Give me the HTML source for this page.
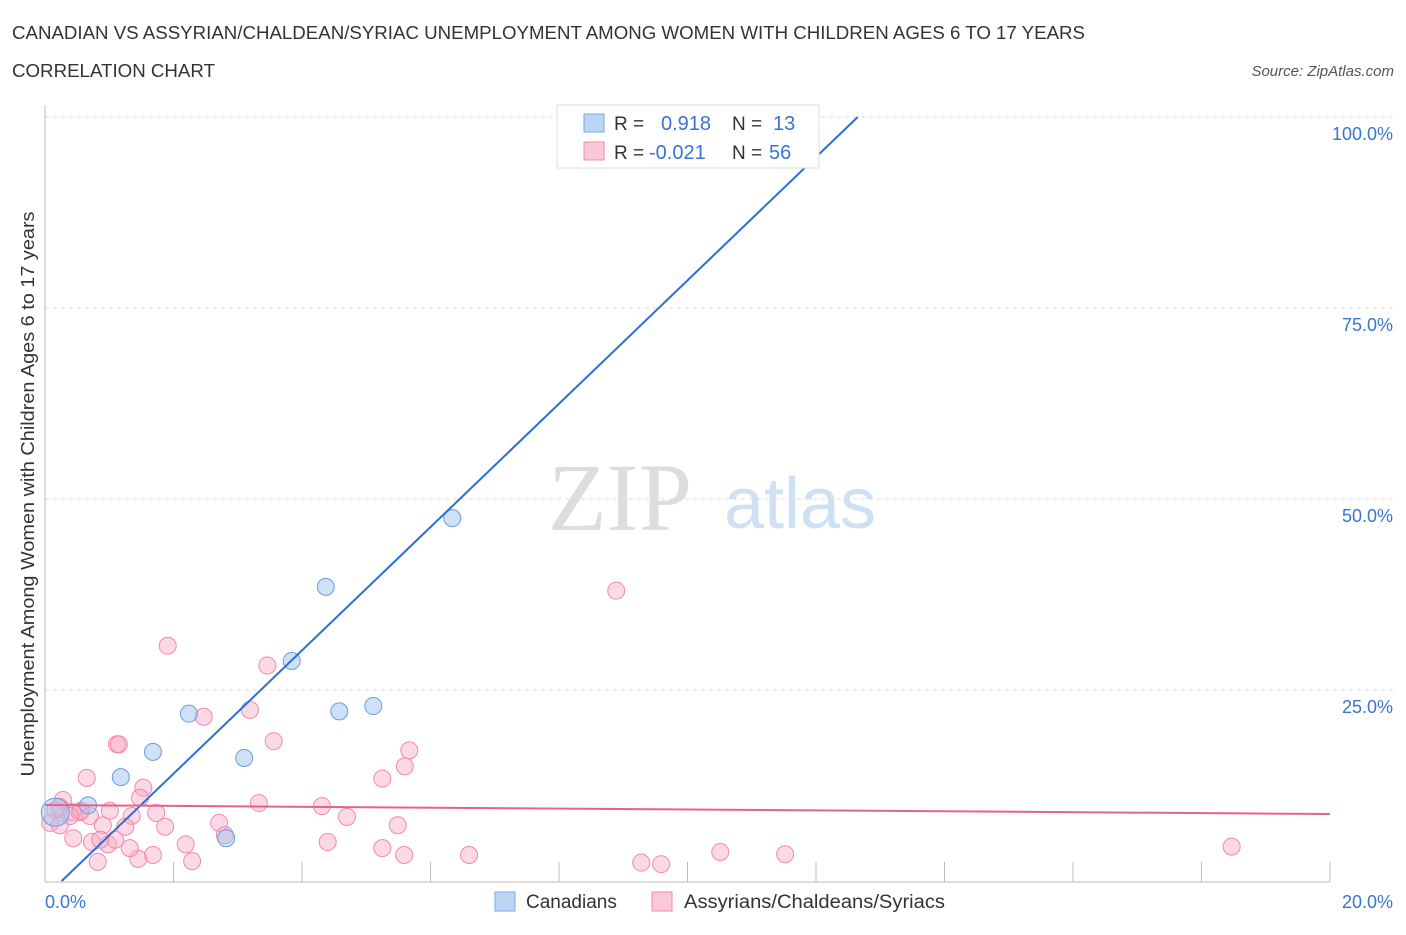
<!DOCTYPE html>
<html><head><meta charset="utf-8"><style>
body{margin:0;background:#fff;font-family:"Liberation Sans",sans-serif;}
</style></head><body>
<svg width="1406" height="930" xmlns="http://www.w3.org/2000/svg">
<text x="12" y="39" font-size="18" fill="#333" textLength="1073" lengthAdjust="spacingAndGlyphs">CANADIAN VS ASSYRIAN/CHALDEAN/SYRIAC UNEMPLOYMENT AMONG WOMEN WITH CHILDREN AGES 6 TO 17 YEARS</text>
<text x="12" y="77" font-size="18" fill="#333" textLength="203" lengthAdjust="spacingAndGlyphs">CORRELATION CHART</text>
<text x="1394" y="76" font-size="15" fill="#555" font-style="italic" text-anchor="end">Source: ZipAtlas.com</text>
<text x="620" y="530" font-size="96" fill="#ddd" font-family="Liberation Serif,serif" text-anchor="middle">ZIP</text>
<text x="800" y="528" font-size="72" fill="#cfe0f3" text-anchor="middle">atlas</text>
<g id="grid"></g>
<g id="axes"></g>
<g id="marks"></g>
<text transform="translate(34,494) rotate(-90)" font-size="18" fill="#333" text-anchor="middle" textLength="565" lengthAdjust="spacingAndGlyphs">Unemployment Among Women with Children Ages 6 to 17 years</text>
<g>
<rect x="557" y="105" width="262" height="63" fill="#fff" stroke="#ddd"/>
<rect x="584" y="114" width="20" height="18" fill="#bcd5f5" stroke="#7aa8e6"/>
<rect x="584" y="142" width="20" height="18" fill="#fbc8d8" stroke="#f08aac"/>
<text x="614" y="130" font-size="19" fill="#333">R =</text><text x="661" y="130" font-size="20" fill="#3a74d0">0.918</text>
<text x="732" y="130" font-size="19" fill="#333">N =</text><text x="773" y="130" font-size="20" fill="#3a74d0">13</text>
<text x="614" y="159" font-size="19" fill="#333">R =</text><text x="649" y="159" font-size="20" fill="#3a74d0">-0.021</text>
<text x="732" y="159" font-size="19" fill="#333">N =</text><text x="769" y="159" font-size="20" fill="#3a74d0">56</text>
</g>
<g>
<rect x="495" y="892" width="20" height="19" fill="#bcd5f5" stroke="#7aa8e6"/>
<text x="526" y="908" font-size="19" fill="#333">Canadians</text>
<rect x="652" y="892" width="20" height="19" fill="#fbc8d8" stroke="#f08aac"/>
<text x="684" y="908" font-size="19" fill="#333" textLength="261" lengthAdjust="spacingAndGlyphs">Assyrians/Chaldeans/Syriacs</text>
</g>
</svg>
<script>
const yTicks=[25,50,75,100];
const yTickLabels=["25.0%","50.0%","75.0%","100.0%"];
const xTicks=[0,2,4,6,8,10,12,14,16,18,20];
const blueX=[10.85,6.34,4.37,3.84,4.58,5.11,2.24,1.68,3.10,1.18,0.67,0.16,2.82];
const blueY=[100,47.5,38.5,28.8,22.2,22.9,21.9,16.9,16.1,13.6,9.9,9.0,5.6];
const pinkX=[1.91,8.89,3.46,2.47,3.19,1.12,1.15,3.56,5.67,5.60,5.25,0.65,1.53,1.48,3.33,4.31,0.28,0.16,0.42,0.54,0.08,0.23,0.70,1.01,1.35,1.73,1.87,0.90,1.25,0.44,0.73,0.98,1.09,2.71,2.80,4.70,5.49,2.19,1.68,1.45,0.82,2.29,5.25,4.40,5.59,6.60,9.28,9.59,10.51,11.52,18.47,0.56,0.39,0.86,1.32,0.23];
const pinkY=[30.8,38.0,28.2,21.5,22.4,17.9,17.9,18.3,17.1,15.0,13.4,13.5,12.2,10.9,10.2,9.8,10.6,9.3,9.0,9.0,7.6,7.3,8.5,9.2,8.5,8.9,7.1,7.3,7.1,5.6,5.1,4.8,5.4,7.6,6.0,8.4,7.3,4.8,3.4,2.9,2.5,2.6,4.3,5.1,3.4,3.4,2.4,2.2,3.8,3.5,4.5,9.2,8.5,5.4,4.3,9.7];
const blueLine=[[0.26,0],[12.65,100]];
const pinkLine=[[0,9.95],[20,8.77]];
const X0=45,X1=1330,Y0=881,Y100=117;
const sx=v=>X0+(X1-X0)*v/20, sy=v=>Y0-(Y0-Y100)*v/100;
const NS="http://www.w3.org/2000/svg";
function mk(t,a,p){const e=document.createElementNS(NS,t);for(const k in a)e.setAttribute(k,a[k]);p.appendChild(e);return e;}
const grid=document.getElementById('grid'),axes=document.getElementById('axes'),marks=document.getElementById('marks');
yTicks.forEach((v,i)=>{
 const l=mk('line',{x1:X0,x2:1393,y1:sy(v),y2:sy(v),stroke:'#ddd','stroke-dasharray':'4,4'},grid);
 
 
 const t=mk('text',{x:1393,y:sy(v)+23,'font-size':18,fill:'#3a74d0','text-anchor':'end'},axes);
 t.textContent=yTickLabels[i];
 
 
});
const ax=mk('line',{x1:X0,x2:X1,y1:Y0+1,y2:Y0+1,stroke:'#bbb'},axes);


const ay=mk('line',{x1:X0,x2:X0,y1:105,y2:Y0+1,stroke:'#bbb'},axes);


xTicks.forEach(v=>{const l=mk('line',{x1:sx(v),x2:sx(v),y1:862,y2:882,stroke:'#bbb'},axes);
 
 });
let t=mk('text',{x:45,y:908,'font-size':18,fill:'#3a74d0'},axes);t.textContent='0.0%';


t=mk('text',{x:1393,y:908,'font-size':18,fill:'#3a74d0','text-anchor':'end'},axes);t.textContent='20.0%';


pinkX.forEach((x,i)=>{const c=mk('circle',{cx:sx(x),cy:sy(pinkY[i]),r:8.5,fill:'rgba(248,170,195,0.45)',stroke:'#f08aac','stroke-width':1},marks);
 
 });
blueX.forEach((x,i)=>{const c=mk('circle',{cx:sx(x),cy:sy(blueY[i]),r:i==11?14:8.5,fill:'rgba(160,195,240,0.5)',stroke:'#6a9de0','stroke-width':1},marks);
 
 });
let L=mk('line',{x1:sx(blueLine[0][0]),y1:sy(blueLine[0][1]),x2:sx(blueLine[1][0]),y2:sy(blueLine[1][1]),stroke:'#2a6fd6','stroke-width':2},marks);


L=mk('line',{x1:sx(pinkLine[0][0]),y1:sy(pinkLine[0][1]),x2:sx(pinkLine[1][0]),y2:sy(pinkLine[1][1]),stroke:'#e8608e','stroke-width':2},marks);


</script>
</body></html>
